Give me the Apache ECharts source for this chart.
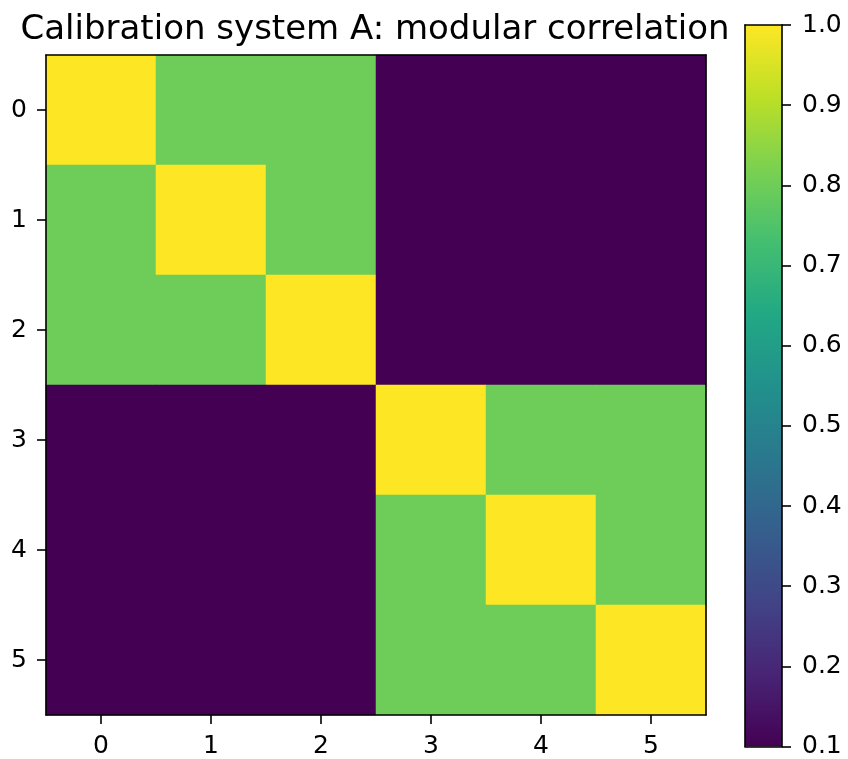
<!DOCTYPE html>
<html>
<head>
<meta charset="utf-8">
<script src="https://cdn.jsdelivr.net/npm/echarts@6/dist/echarts.min.js"></script>
<style>
	html, body { margin: 0; padding: 0; background: #fff; }
	#main { width: 848px; height: 759px; }
</style>
</head>
<body>
<div id="main"></div>
<script>
// data
const labels = ['0', '1', '2', '3', '4', '5'];
const corrMatrix = [
	[1.0, 0.8, 0.8, 0.1, 0.1, 0.1],
	[0.8, 1.0, 0.8, 0.1, 0.1, 0.1],
	[0.8, 0.8, 1.0, 0.1, 0.1, 0.1],
	[0.1, 0.1, 0.1, 1.0, 0.8, 0.8],
	[0.1, 0.1, 0.1, 0.8, 1.0, 0.8],
	[0.1, 0.1, 0.1, 0.8, 0.8, 1.0]
];
const colorMin = 0.1;
const colorMax = 1.0;
const viridis = ['#440154', '#482475', '#414487', '#355f8d', '#2a788e', '#21918c',
	'#22a884', '#44bf70', '#7ad151', '#bddf26', '#fde725'];

// [col, row, value]
const heatData = [];
corrMatrix.forEach((row, i) => {
	row.forEach((v, j) => {
		heatData.push([j, i, v]);
	});
});

const myChart = echarts.init(document.getElementById('main'));

const font = 'DejaVu Sans';
const lineStyle = { color: '#000', width: 1.6 };
const labelStyle = { color: '#000', fontSize: 25, fontFamily: font };

// gradient for the colour bar, bottom -> top
const barGradient = new echarts.graphic.LinearGradient(0, 1, 0, 0,
	viridis.map((c, i) => ({ offset: i / (viridis.length - 1), color: c })));

const option = {
	animation: false,
	title: {
		text: 'Calibration system A: modular correlation',
		left: 370,
		top: 8,
		textAlign: 'center',
		textStyle: { color: '#000', fontSize: 34, fontWeight: 'normal', fontFamily: font }
	},
	grid: [
		{ left: 46, top: 55, width: 660, height: 660 },
		{ left: 745, top: 25, width: 37, height: 723 }
	],
	xAxis: [
		{
			type: 'category', gridIndex: 0, data: labels, position: 'bottom', z: 5,
			axisLine: { lineStyle: lineStyle },
			axisTick: { show: true, alignWithLabel: true, interval: 0, length: 9, lineStyle: lineStyle },
			axisLabel: { ...labelStyle, margin: 19 },
			splitLine: { show: false }
		},
		{
			type: 'category', gridIndex: 0, data: labels, position: 'top', z: 5,
			axisLine: { lineStyle: lineStyle },
			axisTick: { show: false }, axisLabel: { show: false }
		},
		{
			type: 'category', gridIndex: 1, data: [''], position: 'bottom', z: 5,
			axisLine: { lineStyle: lineStyle },
			axisTick: { show: false }, axisLabel: { show: false }
		},
		{
			type: 'category', gridIndex: 1, data: [''], position: 'top', z: 5,
			axisLine: { lineStyle: lineStyle },
			axisTick: { show: false }, axisLabel: { show: false }
		}
	],
	yAxis: [
		{
			type: 'category', gridIndex: 0, data: labels, inverse: true, position: 'left', z: 5,
			axisLine: { lineStyle: lineStyle },
			axisTick: { show: true, alignWithLabel: true, interval: 0, length: 9, lineStyle: lineStyle },
			axisLabel: { ...labelStyle, margin: 19 },
			splitLine: { show: false }
		},
		{
			type: 'category', gridIndex: 0, data: labels, inverse: true, position: 'right', z: 5,
			axisLine: { lineStyle: lineStyle },
			axisTick: { show: false }, axisLabel: { show: false }
		},
		{
			type: 'value', gridIndex: 1, position: 'right', z: 5,
			min: colorMin, max: colorMax, interval: 0.1,
			axisLine: { show: true, lineStyle: lineStyle },
			axisTick: { show: true, length: 9, lineStyle: lineStyle },
			axisLabel: { ...labelStyle, margin: 20, formatter: (v) => v.toFixed(1) },
			splitLine: { show: false }
		},
		{
			type: 'value', gridIndex: 1, position: 'left', z: 5,
			min: colorMin, max: colorMax,
			axisLine: { show: true, lineStyle: lineStyle },
			axisTick: { show: false }, axisLabel: { show: false },
			splitLine: { show: false }
		}
	],
	visualMap: {
		show: false,
		seriesIndex: 0,
		min: colorMin,
		max: colorMax,
		inRange: { color: viridis }
	},
	series: [
		{
			type: 'heatmap',
			xAxisIndex: 0,
			yAxisIndex: 0,
			data: heatData,
			itemStyle: { borderWidth: 0 },
			z: 1
		},
		{
			type: 'bar',
			xAxisIndex: 2,
			yAxisIndex: 2,
			data: [colorMax],
			barWidth: '100%',
			itemStyle: { color: barGradient },
			silent: true,
			z: 1
		}
	]
};

myChart.setOption(option);
</script>
</body>
</html>
